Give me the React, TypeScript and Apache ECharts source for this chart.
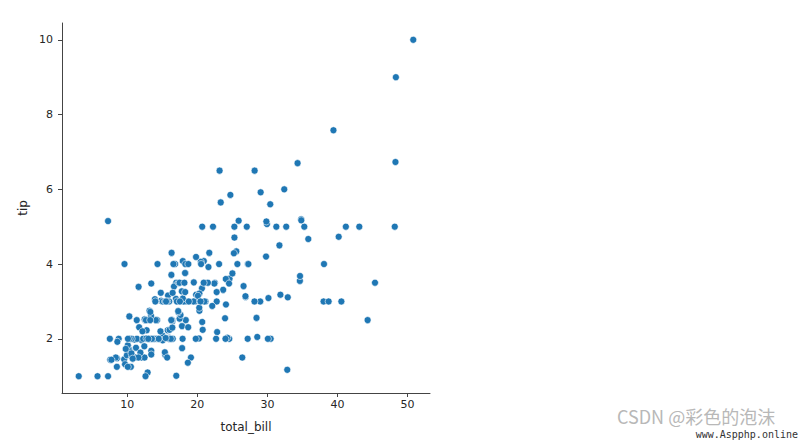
import React, { useEffect, useRef } from "react";
import * as echarts from "echarts";

const totalBill: number[] = [
  16.99, 10.34, 21.01, 23.68, 24.59, 25.29, 8.77, 26.88, 15.04, 14.78,
  10.27, 35.26, 15.42, 18.43, 14.83, 21.58, 10.33, 16.29, 16.97, 20.65,
  17.92, 20.29, 15.77, 39.42, 19.82, 17.81, 13.37, 12.69, 21.7, 19.65,
  9.55, 18.35, 15.06, 20.69, 17.78, 24.06, 16.31, 16.93, 18.69, 31.27,
  16.04, 17.46, 13.94, 9.68, 30.4, 18.29, 22.23, 32.4, 28.55, 18.04,
  12.54, 10.29, 34.81, 9.94, 25.56, 19.49, 38.01, 26.41, 11.24, 48.27,
  20.29, 13.81, 11.02, 18.29, 17.59, 20.08, 16.45, 3.07, 20.23, 15.01,
  12.02, 17.07, 26.86, 25.28, 14.73, 10.51, 17.92, 27.2, 22.76, 17.29,
  19.44, 16.66, 10.07, 32.68, 15.98, 34.83, 13.03, 18.28, 24.71, 21.16,
  28.97, 22.49, 5.75, 16.32, 22.75, 40.17, 27.28, 12.03, 21.01, 12.46,
  11.35, 15.38, 44.3, 22.42, 20.92, 15.36, 20.49, 25.21, 18.24, 14.31,
  14.0, 7.25, 38.07, 23.95, 25.71, 17.31, 29.93, 10.65, 12.43, 24.08,
  11.69, 13.42, 14.26, 15.95, 12.48, 29.8, 8.52, 14.52, 11.38, 22.82,
  19.08, 20.27, 11.17, 12.26, 18.26, 8.51, 10.33, 14.15, 16.0, 13.16,
  17.47, 34.3, 41.19, 27.05, 16.43, 8.35, 18.64, 11.87, 9.78, 7.51,
  14.07, 13.13, 17.26, 24.55, 19.77, 29.85, 48.17, 25.0, 13.39, 16.49,
  21.5, 12.66, 16.21, 13.81, 17.51, 24.52, 20.76, 31.71, 10.59, 10.63,
  50.81, 15.81, 7.25, 31.85, 16.82, 32.9, 17.89, 14.48, 9.6, 34.63,
  34.65, 23.33, 45.35, 23.17, 40.55, 20.69, 20.9, 30.46, 18.15, 23.1,
  15.69, 19.81, 28.44, 15.48, 16.58, 7.56, 10.34, 43.11, 13.0, 13.51,
  18.71, 12.74, 13.0, 16.4, 20.53, 16.47, 26.59, 38.73, 24.27, 12.76,
  30.06, 25.89, 48.33, 13.27, 28.17, 12.9, 28.15, 11.59, 7.74, 30.14,
  12.16, 13.42, 8.58, 15.98, 13.42, 16.27, 10.09, 20.45, 13.28, 22.12,
  24.01, 15.69, 11.61, 10.77, 15.53, 10.07, 12.6, 32.83, 35.83, 29.03,
  27.18, 22.67, 17.82, 18.78,
];

const tip: number[] = [
  1.01, 1.66, 3.5, 3.31, 3.61, 4.71, 2.0, 3.12, 1.96, 3.23,
  1.71, 5.0, 1.57, 3.0, 3.02, 3.92, 1.67, 3.71, 3.5, 3.35,
  4.08, 2.75, 2.23, 7.58, 3.18, 2.34, 2.0, 2.0, 4.3, 3.0,
  1.45, 2.5, 3.0, 2.45, 3.27, 3.6, 2.0, 3.07, 2.31, 5.0,
  2.24, 2.54, 3.06, 1.32, 5.6, 3.0, 5.0, 6.0, 2.05, 3.0,
  2.5, 2.6, 5.2, 1.56, 4.34, 3.51, 3.0, 1.5, 1.76, 6.73,
  3.21, 2.0, 1.98, 3.76, 2.64, 3.15, 2.47, 1.0, 2.01, 2.09,
  1.97, 3.0, 3.14, 5.0, 2.2, 1.25, 3.08, 4.0, 3.0, 2.71,
  3.0, 3.4, 1.83, 5.0, 2.03, 5.17, 2.0, 4.0, 5.85, 3.0,
  3.0, 3.5, 1.0, 4.3, 3.25, 4.73, 4.0, 1.5, 3.0, 1.5,
  2.5, 3.0, 2.5, 3.48, 4.08, 1.64, 4.06, 4.29, 3.76, 4.0,
  3.0, 1.0, 4.0, 2.55, 4.0, 3.5, 5.07, 1.5, 1.8, 2.92,
  2.31, 1.68, 2.5, 2.0, 2.52, 4.2, 1.48, 2.0, 2.0, 2.18,
  1.5, 2.83, 1.5, 2.0, 3.25, 1.25, 2.0, 2.0, 2.0, 2.75,
  3.5, 6.7, 5.0, 5.0, 2.3, 1.5, 1.36, 1.63, 1.73, 2.0,
  2.5, 2.0, 2.74, 2.0, 2.0, 5.14, 5.0, 3.75, 2.61, 2.0,
  3.5, 2.5, 2.0, 2.0, 3.0, 3.48, 2.24, 4.5, 1.61, 2.0,
  10.0, 3.16, 5.15, 3.18, 4.0, 3.11, 2.0, 2.0, 4.0, 3.55,
  3.68, 5.65, 3.5, 6.5, 3.0, 5.0, 3.5, 2.0, 3.5, 4.0,
  1.5, 4.19, 2.56, 2.02, 4.0, 1.44, 2.0, 5.0, 2.0, 2.0,
  4.0, 2.01, 2.0, 2.5, 4.0, 3.23, 3.41, 3.0, 2.03, 2.23,
  2.0, 5.16, 9.0, 2.5, 6.5, 1.1, 3.0, 1.5, 1.44, 3.09,
  2.2, 3.48, 1.92, 3.0, 1.58, 2.5, 2.0, 3.0, 2.72, 2.88,
  2.0, 3.0, 3.39, 1.47, 3.0, 1.25, 1.0, 1.17, 4.67, 5.92,
  2.0, 2.0, 1.75, 3.0,
];

const xTicks: number[] = [10, 20, 30, 40, 50];
const yTicks: number[] = [2, 4, 6, 8, 10];
const xLabel = "total_bill";
const yLabel = "tip";
const watermark1 = "CSDN @彩色的泡沫";
const watermark2 = "www.Aspphp.online";

export default function App() {
  const ref = useRef<HTMLDivElement>(null);
  useEffect(() => {
    if (!ref.current) return;
    const chart = echarts.init(ref.current, undefined, { renderer: "svg" });
    const points = totalBill.map((b, i) => [b, tip[i]]);
    const font = "DejaVu Sans";
    const axisLine = { show: true, lineStyle: { color: "#444", width: 1 } };
    const tickStyle = { color: "#444", width: 1 };
    const labelStyle = { color: "#262626", fontSize: 11, fontFamily: font };
    chart.setOption({
      animation: false,
      backgroundColor: "#ffffff",
      grid: { left: 62, top: 23, width: 368, height: 370, containLabel: false },
      xAxis: {
        type: "value",
        min: 0.68,
        max: 53.2,
        axisLine,
        splitLine: { show: false },
        axisTick: { show: true, length: 4, lineStyle: tickStyle, customValues: xTicks },
        axisLabel: {
          ...labelStyle,
          margin: 6,
          customValues: xTicks,
          formatter: (v: number) => String(v),
        },
        name: xLabel,
        nameLocation: "middle",
        nameGap: 28,
        nameTextStyle: { ...labelStyle, fontSize: 12 },
      },
      yAxis: {
        type: "value",
        min: 0.55,
        max: 10.45,
        axisLine,
        splitLine: { show: false },
        axisTick: { show: true, length: 4, lineStyle: tickStyle, customValues: yTicks },
        axisLabel: {
          ...labelStyle,
          margin: 9,
          customValues: yTicks,
          formatter: (v: number) => String(v),
        },
        name: yLabel,
        nameLocation: "middle",
        nameGap: 33,
        nameTextStyle: { ...labelStyle, fontSize: 12 },
      },
      series: [
        {
          type: "scatter",
          data: points,
          symbolSize: 7,
          itemStyle: {
            color: "#1f77b4",
            borderColor: "#ffffff",
            borderWidth: 0.6,
            opacity: 1,
          },
        },
      ],
      graphic: [
        {
          type: "text",
          left: 617,
          top: 407,
          style: {
            text: watermark1,
            fill: "#b8b8b8",
            fontSize: 18,
            fontFamily: "Noto Sans CJK SC",
          },
        },
        {
          type: "text",
          right: 2,
          top: 429,
          style: {
            text: watermark2,
            fill: "#333",
            fontSize: 10,
            fontFamily: "DejaVu Sans Mono",
          },
        },
      ],
    });
    return () => chart.dispose();
  }, []);
  return (
    <div
      ref={ref}
      style={{ position: "absolute", left: 0, top: 0, width: 800, height: 440 }}
    />
  );
}
